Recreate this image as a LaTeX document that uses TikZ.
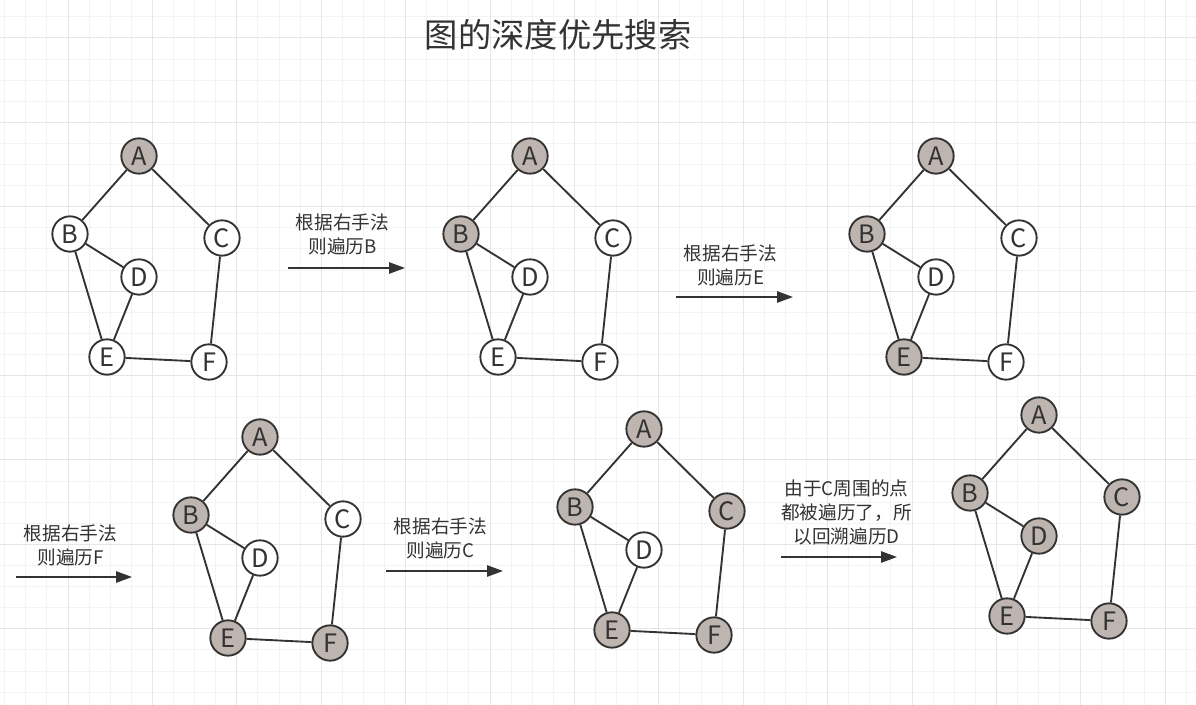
\documentclass[tikz,border=0pt]{standalone}
\usepackage{fontspec}
\setmainfont{Noto Sans CJK SC}
\usetikzlibrary{arrows.meta}
\definecolor{inkc}{HTML}{333333}
\definecolor{visc}{HTML}{BFB5B0}
\definecolor{gridmin}{HTML}{F3F3F3}
\definecolor{gridmaj}{HTML}{E6E6E6}
\begin{document}
\begin{tikzpicture}[x=0.75pt,y=-0.75pt,
  vtx/.style={circle,draw=inkc,line width=1.4pt,fill=white,minimum size=26.5pt,
    inner sep=0pt,text=inkc,font=\fontsize{19}{19}\selectfont},
  vis/.style={vtx,fill=visc},
  edge/.style={draw=inkc,line width=1.4pt},
  goarrow/.style={draw=inkc,line width=1.3pt,-{Triangle[length=12pt,width=8.5pt]}},
  note/.style={align=center,text=inkc,font=\fontsize{14}{18}\selectfont}]
\useasboundingbox (0,0) rectangle (1196,705);
\fill[white] (0,0) rectangle (1196,705);
% mrizka v pozadi
\foreach \i in {-3,...,53}
  \draw[gridmin,line width=0.75pt] ({68+21.1*\i},0) -- ++(0,705);
\foreach \j in {-1,...,31}
  \draw[gridmin,line width=0.75pt] (0,{38+21.1*\j}) -- ++(1196,0);
\foreach \i in {0,...,13}
  \draw[gridmaj,line width=0.75pt] ({68+84.4*\i},0) -- ++(0,705);
\foreach \j in {0,...,7}
  \draw[gridmaj,line width=0.75pt] (0,{38+84.4*\j}) -- ++(1196,0);
% nadpis
\node[text=inkc,font=\fontsize{25}{25}\selectfont] (nadpis) at (558,35) {图的深度优先搜索};
% sest kroku: cislo/posun x/posun y/styly uzlu A..F
\foreach \g/\dx/\dy/\sa/\sb/\sc/\sd/\se/\sf in {
  1/0/0/vis/vtx/vtx/vtx/vtx/vtx,
  2/391/0/vis/vis/vtx/vtx/vtx/vtx,
  3/797/0/vis/vis/vtx/vtx/vis/vtx,
  4/121/281/vis/vis/vtx/vtx/vis/vis,
  5/505/273/vis/vis/vis/vtx/vis/vis,
  6/900/259/vis/vis/vis/vis/vis/vis} {
  \begin{scope}[shift={(\dx,\dy)}]
    \node[\sa] (A\g) at (139,156) {A};
    \node[\sb] (B\g) at (70,234) {B};
    \node[\sc] (C\g) at (222,238) {C};
    \node[\sd] (D\g) at (139,277) {D};
    \node[\se] (E\g) at (107,357) {E};
    \node[\sf] (F\g) at (209,362) {F};
  \end{scope}
  \foreach \u/\v in {A/B, A/C, B/D, B/E, D/E, C/F, E/F}
    \draw[edge] (\u\g) -- (\v\g);
}
% sipky mezi kroky s popisky
\foreach \k/\xa/\xb/\ya/\lx/\ly/\txt in {
  1/288/405/268/342.5/234/{根据右手法\\则遍历B},
  2/676/793/297/730.5/265/{根据右手法\\则遍历E},
  3/16/132/577/70.5/545/{根据右手法\\则遍历F},
  4/386/503/571/440.5/538/{根据右手法\\则遍历C},
  5/781/897/557/846.5/512/{由于C周围的点\\都被遍历了，所\\以回溯遍历D}} {
  \coordinate (s\k) at (\xa,\ya);
  \coordinate (t\k) at (\xb,\ya);
  \draw[goarrow] (s\k) -- (t\k);
  \node[note] (n\k) at (\lx,\ly) {\txt};
}
\end{tikzpicture}
\end{document}
